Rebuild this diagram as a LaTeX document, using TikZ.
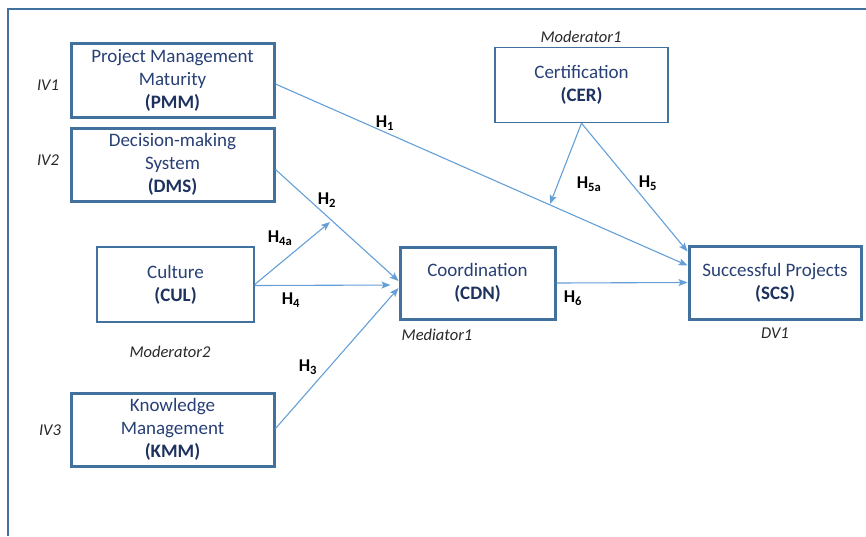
\documentclass[tikz,border=0pt]{standalone}
\usepackage{fontspec}
\setmainfont{Carlito}
\usetikzlibrary{arrows.meta}
\definecolor{boxline}{RGB}{65,113,156}
\definecolor{arrowc}{RGB}{100,160,215}
\definecolor{txt}{RGB}{40,64,118}
\definecolor{acr}{RGB}{30,50,95}
\definecolor{lab}{RGB}{40,40,40}
\begin{document}
\begin{tikzpicture}[x=1pt,y=-1pt,
  thickbox/.style={draw=boxline,line width=3pt,fill=white,text=txt,align=center,
    font=\fontsize{19}{23}\selectfont,inner sep=0pt},
  thinbox/.style={thickbox,line width=1.4pt},
  conn/.style={draw=arrowc,line width=1.1pt,-{Stealth[length=9pt,width=7pt,inset=2pt]}},
  hlab/.style={font=\fontsize{18}{20}\selectfont\bfseries,text=black},
  ilab/.style={font=\fontsize{16.5}{19}\selectfont\itshape,text=lab}]
\useasboundingbox (0,0) rectangle (866,536);
\draw[boxline,line width=1.5pt] (8,536) -- (8,9) -- (866,9);

\node[thickbox,minimum width=203pt,minimum height=74pt] (PMM) at (172.5,80)
  {Project Management\\Maturity\\\textcolor{acr}{\textbf{(PMM)}}};
\node[thickbox,minimum width=203pt,minimum height=73pt] (DMS) at (172.5,164.5)
  {Decision-making\\System\\\textcolor{acr}{\textbf{(DMS)}}};
\node[thinbox,minimum width=157pt,minimum height=75pt] (CUL) at (175.5,284.5)
  {Culture\\\textcolor{acr}{\textbf{(CUL)}}};
\node[thickbox,minimum width=203pt,minimum height=73pt] (KMM) at (172.5,429.5)
  {Knowledge\\Management\\\textcolor{acr}{\textbf{(KMM)}}};
\node[thickbox,minimum width=155pt,minimum height=72pt] (CDN) at (477.5,283)
  {Coordination\\\textcolor{acr}{\textbf{(CDN)}}};
\node[thinbox,minimum width=173pt,minimum height=75pt] (CER) at (581.5,85)
  {Certification\\\textcolor{acr}{\textbf{(CER)}}};
\node[thickbox,minimum width=172pt,minimum height=73pt] (SCS) at (775,282.5)
  {Successful Projects\\\textcolor{acr}{\textbf{(SCS)}}};

\node[ilab] (iv1) at (48,85) {IV1};
\node[ilab] (iv2) at (48,160) {IV2};
\node[ilab] (iv3) at (50,430) {IV3};
\node[ilab] (mod1) at (581,37) {Moderator1};
\node[ilab] (mod2) at (170,352) {Moderator2};
\node[ilab] (med1) at (437,335) {Mediator1};
\node[ilab] (dv1) at (775,333) {DV1};

\coordinate (h4aend) at (330,222);
\coordinate (h5aend) at (550,204);

\draw[conn] ([yshift=-4pt]PMM.east) -- ([yshift=17pt]SCS.west);
\draw[conn] ([yshift=-5pt]DMS.east) -- ([yshift=2pt]CDN.west);
\draw[conn] (CUL.east) -- (h4aend);
\draw[conn,shorten >=8pt] ([yshift=-1pt]CUL.east) -- ([yshift=-2pt]CDN.west);
\draw[conn] ([yshift=1pt]KMM.east) -- ([yshift=-5pt]CDN.west);
\draw[conn] (CDN.east) -- (SCS.west);
\draw[conn] (CER.south) -- (h5aend);
\draw[conn] (CER.south) -- ([yshift=31pt]SCS.west);

\node[hlab] (h1) at (385,123) {H\textsubscript{1}};
\node[hlab] (h2) at (327,200) {H\textsubscript{2}};
\node[hlab] (h4a) at (280,238) {H\textsubscript{4a}};
\node[hlab] (h4) at (291,300) {H\textsubscript{4}};
\node[hlab] (h3) at (308,367) {H\textsubscript{3}};
\node[hlab] (h5a) at (589,184) {H\textsubscript{5a}};
\node[hlab] (h5) at (648,183) {H\textsubscript{5}};
\node[hlab] (h6) at (573,298) {H\textsubscript{6}};
\end{tikzpicture}
\end{document}
